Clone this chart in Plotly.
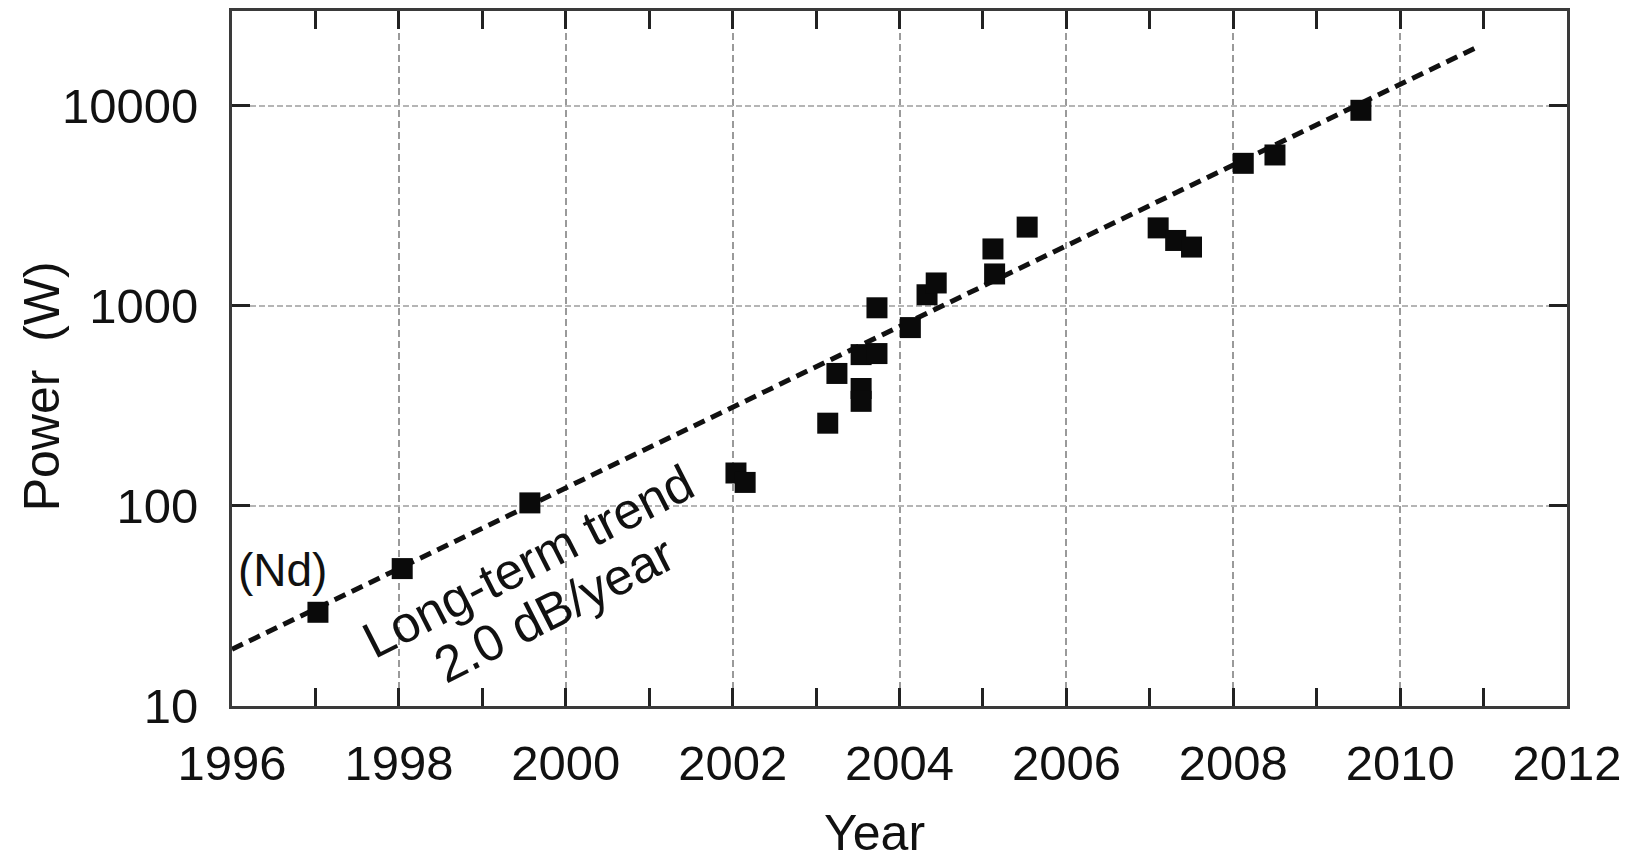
import plotly.graph_objects as go

# ---- data ----
years = [1997.03, 1998.04, 1999.57,
         2002.04, 2002.15, 2003.14, 2003.25, 2003.54, 2003.73, 2003.54, 2003.54, 2003.73,
         2004.13, 2004.33, 2004.44, 2005.12, 2005.14, 2005.53,
         2007.10, 2007.31, 2007.50, 2008.12, 2008.50, 2009.53]
power_w = [29.4, 48.6, 103.5,
           146, 131, 259, 459, 570, 577, 386, 333, 977,
           778, 1135, 1300, 1923, 1442, 2472,
           2450, 2120, 1965, 5150, 5670, 9480]

trend_years = [1996.0, 2010.9]
trend_power = [19.2, 19400]

x_tick_vals = [1996, 1998, 2000, 2002, 2004, 2006, 2008, 2010, 2012]
x_tick_text = ["1996", "1998", "2000", "2002", "2004", "2006", "2008", "2010", "2012"]
y_tick_vals = [10, 100, 1000, 10000]
y_tick_text = ["10", "100", "1000", "10000"]

FONT = "Arial, 'Liberation Sans', Helvetica, sans-serif"

fig = go.Figure()

fig.add_trace(go.Scatter(
    x=trend_years, y=trend_power, mode="lines",
    line=dict(color="#111111", width=5, dash="12px,7px"),
    hoverinfo="skip", showlegend=False,
))

fig.add_trace(go.Scatter(
    x=years, y=power_w, mode="markers",
    marker=dict(symbol="square", size=21, color="#0a0a0a", line=dict(width=0)),
    showlegend=False,
))

axis_common = dict(
    showline=True, linewidth=3, linecolor="#3a3a3a", mirror="ticks",
    ticks="inside", tickcolor="#222222", tickwidth=3, ticklen=18,
    tickfont=dict(family=FONT, size=49, color="#111111"),
    zeroline=False,
)

fig.update_xaxes(
    range=[1996, 2012], tickmode="array", tickvals=x_tick_vals, ticktext=x_tick_text,
    showgrid=True, gridcolor="#9a9a9a", gridwidth=2, griddash="7px,4px",
    ticklabelstandoff=12,
    minor=dict(dtick=1, tick0=1996, ticks="inside", ticklen=18, tickwidth=3,
               tickcolor="#222222", showgrid=False),
    **axis_common,
)

fig.update_yaxes(
    type="log", range=[1, 4.473], tickmode="array", tickvals=y_tick_vals, ticktext=y_tick_text,
    showgrid=True, gridcolor="#b5b5b5", gridwidth=2, griddash="6px,3px",
    ticklabelstandoff=21,
    **axis_common,
)

annotations = [
    dict(text="(Nd)", x=1996.60, y=1.68, xref="x", yref="y", showarrow=False,
         font=dict(family=FONT, size=46, color="#111111"), xanchor="center", yanchor="middle"),
    dict(text="Long-term trend", x=1999.55, y=1.72, xref="x", yref="y", showarrow=False,
         textangle=-27, font=dict(family=FONT, size=51, color="#111111"),
         xanchor="center", yanchor="middle"),
    dict(text="2.0 dB/year", x=1999.86, y=1.48, xref="x", yref="y", showarrow=False,
         textangle=-27, font=dict(family=FONT, size=51, color="#111111"),
         xanchor="center", yanchor="middle"),
    dict(text="Year", x=0.481, y=-0.1834, xref="paper", yref="paper", showarrow=False,
         font=dict(family=FONT, size=50, color="#111111"), xanchor="center", yanchor="middle"),
    dict(text="Power\u00a0\u00a0(W)", x=-0.1423, y=0.46, xref="paper", yref="paper",
         showarrow=False, textangle=-90,
         font=dict(family=FONT, size=50, color="#111111"), xanchor="center", yanchor="middle"),
]

fig.update_layout(
    width=1632, height=859,
    margin=dict(l=224, r=73, t=0, b=161),
    paper_bgcolor="white", plot_bgcolor="white",
    annotations=annotations,
    showlegend=False,
)

fig.write_html("out.html")
